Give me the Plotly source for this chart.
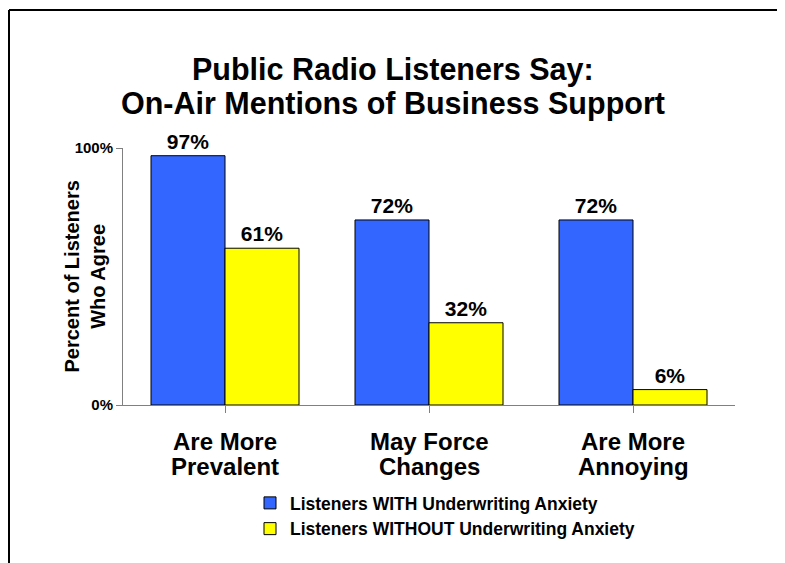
import plotly.graph_objects as go

title_lines = ["Public Radio Listeners Say:", "On-Air Mentions of Business Support"]
categories = ["Are More<br>Prevalent", "May Force<br>Changes", "Are More<br>Annoying"]
series_names = ["Listeners WITH Underwriting Anxiety", "Listeners WITHOUT Underwriting Anxiety"]
with_anxiety = [97, 72, 72]
without_anxiety = [61, 32, 6]
y_tick_vals = [0, 100]
y_tick_text = ["0%", "100%"]
y_title = "Percent of Listeners<br>Who Agree"

FONT = "Liberation Sans, Arial, sans-serif"
W, H = 785, 563
OFF = 8  # page body margin
ML, MT = 115, 140
PW, PH = 612, 257
MR, MB = W - ML - PW, H - MT - PH

def px_x(px):
    return (px - OFF - ML) / PW

def px_y(py):
    return (MT + PH - (py - OFF)) / PH

colors = ["#3366FF", "#FFFF00"]
fig = go.Figure()
for i, (name, vals) in enumerate(zip(series_names, [with_anxiety, without_anxiety])):
    fig.add_trace(go.Bar(
        x=list(range(len(categories))), y=vals, name=name,
        marker=dict(color=colors[i], line=dict(color="black", width=1)),
        text=[f"{v}%" for v in vals], textposition="outside",
        textfont=dict(family=FONT, size=21, color="black", weight="bold"),
        constraintext="none", cliponaxis=False,
        legendgroup=f"g{i}",
    ))

annotations = []
for k, line in enumerate(title_lines):
    annotations.append(dict(
        x=px_x(393), y=px_y(70 + 34 * k), xref="paper", yref="paper",
        text=line, showarrow=False, xanchor="center", yanchor="middle",
        font=dict(family=FONT, size=30.5, color="black", weight="bold"),
    ))
for j, cat in enumerate(categories):
    for k, line in enumerate(cat.split("<br>")):
        annotations.append(dict(
            x=j, y=px_y(441 + 25 * k), xref="x", yref="paper",
            text=line, showarrow=False, xanchor="center", yanchor="middle",
            font=dict(family=FONT, size=24, color="black", weight="bold"),
        ))
annotations.append(dict(
    x=px_x(84), y=0.5, xref="paper", yref="paper", text=y_title,
    textangle=-90, showarrow=False, xanchor="center", yanchor="middle",
    font=dict(family=FONT, size=20, color="black", weight="bold"),
))

shapes = [
    dict(type="line", xref="paper", yref="paper", x0=px_x(9), x1=px_x(800),
         y0=px_y(10), y1=px_y(10), line=dict(color="black", width=2)),
    dict(type="line", xref="paper", yref="paper", x0=px_x(9), x1=px_x(9),
         y0=px_y(10), y1=px_y(580), line=dict(color="black", width=2)),
]

fig.update_layout(
    width=W, height=H,
    margin=dict(l=ML, r=MR, t=MT, b=MB),
    paper_bgcolor="white", plot_bgcolor="white",
    barmode="group", bargap=0.2745, bargroupgap=0,
    xaxis=dict(range=[-0.5, 2.5], tickvals=list(range(len(categories))), showticklabels=False,
               ticks="outside", tickson="boundaries", ticklen=7, tickcolor="#808080",
               showline=True, linecolor="#808080", linewidth=1, showgrid=False, zeroline=False),
    yaxis=dict(range=[0, 100], tickvals=y_tick_vals, ticktext=y_tick_text,
               ticks="outside", ticklen=6, tickcolor="#808080",
               tickfont=dict(family=FONT, size=15, color="black", weight="bold"),
               showline=True, linecolor="#808080", linewidth=1, showgrid=False, zeroline=False),
    legend=dict(x=px_x(250), y=px_y(485), xanchor="left", yanchor="top",
                orientation="v", tracegroupgap=0,
                font=dict(family=FONT, size=17.5, color="black", weight="bold"),
                bgcolor="rgba(0,0,0,0)"),
    showlegend=True,
    annotations=annotations, shapes=shapes,
)

fig.write_html("out.html")
